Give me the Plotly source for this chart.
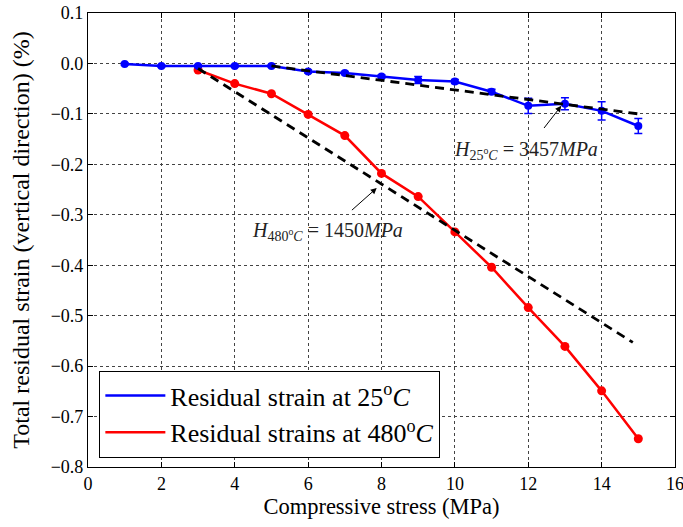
import plotly.graph_objects as go

# ---- data ----
stress_25 = [1, 2, 3, 4, 5, 6, 7, 8, 9, 10, 11, 12, 13, 14, 15]
strain_25 = [-0.001, -0.005, -0.005, -0.005, -0.005, -0.016, -0.019, -0.026,
             -0.033, -0.036, -0.056, -0.084, -0.080, -0.094, -0.124]
err_25 = [0.002, 0.002, 0.002, 0.002, 0.002, 0.003, 0.003, 0.003,
          0.007, 0.004, 0.005, 0.015, 0.012, 0.018, 0.015]

stress_480 = [3, 4, 5, 6, 7, 8, 9, 10, 11, 12, 13, 14, 15]
strain_480 = [-0.013, -0.040, -0.060, -0.101, -0.143, -0.218, -0.264, -0.334,
              -0.404, -0.484, -0.561, -0.649, -0.744]

fit25_x = [5, 15]
fit25_y = [-0.005, -0.100]
fit480_x = [3, 14.85]
fit480_y = [-0.010, -0.553]

x_ticks = [0, 2, 4, 6, 8, 10, 12, 14, 16]
y_ticks = [0.1, 0.0, -0.1, -0.2, -0.3, -0.4, -0.5, -0.6, -0.7, -0.8]

FONT = "Liberation Serif, DejaVu Serif, serif"

fig = go.Figure()

fig.add_trace(go.Scatter(
    x=stress_480, y=strain_480, mode="lines+markers",
    line=dict(color="#ff0000", width=2.5),
    marker=dict(color="#ff0000", size=9),
    showlegend=False))

fig.add_trace(go.Scatter(
    x=stress_25, y=strain_25, mode="lines+markers",
    line=dict(color="#0000ff", width=2.5),
    marker=dict(color="#0000ff", size=8),
    error_y=dict(type="data", array=err_25, color="#0000ff", thickness=1.5, width=4),
    showlegend=False))

fig.add_trace(go.Scatter(
    x=fit25_x, y=fit25_y, mode="lines",
    line=dict(color="black", width=2.8, dash="9px,6px"), showlegend=False))
fig.add_trace(go.Scatter(
    x=fit480_x, y=fit480_y, mode="lines",
    line=dict(color="black", width=2.8, dash="9px,6px"), showlegend=False))

# legend entries (lines only)
fig.add_trace(go.Scatter(
    x=[None], y=[None], mode="lines", line=dict(color="#0000ff", width=2.5),
    name="Residual strain at 25<sup>o</sup><i>C</i>"))
fig.add_trace(go.Scatter(
    x=[None], y=[None], mode="lines", line=dict(color="#ff0000", width=2.5),
    name="Residual strains at 480<sup>o</sup><i>C</i>"))

fig.add_annotation(
    x=12.9, y=-0.084, ax=11.95, ay=-0.173, axref="x", ayref="y",
    text="<i>H</i><sub>25<sup>o</sup><i>C</i></sub> = 3457<i>MPa</i>",
    showarrow=True, arrowhead=2, arrowsize=1.2, arrowwidth=1, arrowcolor="black",
    font=dict(family=FONT, size=20, color="#222"), standoff=0, startstandoff=11)
fig.add_annotation(
    x=7.87, y=-0.247, ax=6.54, ay=-0.333, axref="x", ayref="y",
    text="<i>H</i><sub>480<sup>o</sup><i>C</i></sub> = 1450<i>MPa</i>",
    showarrow=True, arrowhead=2, arrowsize=1.2, arrowwidth=1, arrowcolor="black",
    font=dict(family=FONT, size=20, color="#222"), standoff=0, startstandoff=11)

axis_common = dict(
    showline=True, linecolor="black", linewidth=1.2, mirror="allticks",
    ticks="inside", ticklen=5, tickcolor="black", automargin=False,
    ticklabeloverflow="allow",
    showgrid=True, gridcolor="#444", griddash="dot", gridwidth=1,
    zeroline=False, tickfont=dict(family=FONT, size=18, color="black"))

fig.update_xaxes(range=[0, 16], tickvals=x_ticks,
                 title=dict(text="Compressive stress (MPa)", font=dict(family=FONT, size=22.5, color="black"), standoff=5),
                 **axis_common)
fig.update_yaxes(range=[-0.8, 0.1], tickvals=y_ticks, tickformat=".1f",
                 title=dict(text="Total residual strain (vertical direction) (%)", font=dict(family=FONT, size=24, color="black"), standoff=14),
                 **axis_common)

fig.update_layout(
    width=683, height=527,
    margin=dict(l=88, r=8, t=13, b=60),
    plot_bgcolor="white", paper_bgcolor="white",
    font=dict(family=FONT),
    legend=dict(x=0.019, y=0.02, xanchor="left", yanchor="bottom",
                bgcolor="white", bordercolor="black", borderwidth=1.2,
                font=dict(family=FONT, size=26, color="black"),
                itemwidth=60, tracegroupgap=0),
)

# remove the browser's default 8px page margin so the figure fills the window
fig.write_html("out.html", config={"displayModeBar": False},
               post_script="document.body.style.margin='0';")
